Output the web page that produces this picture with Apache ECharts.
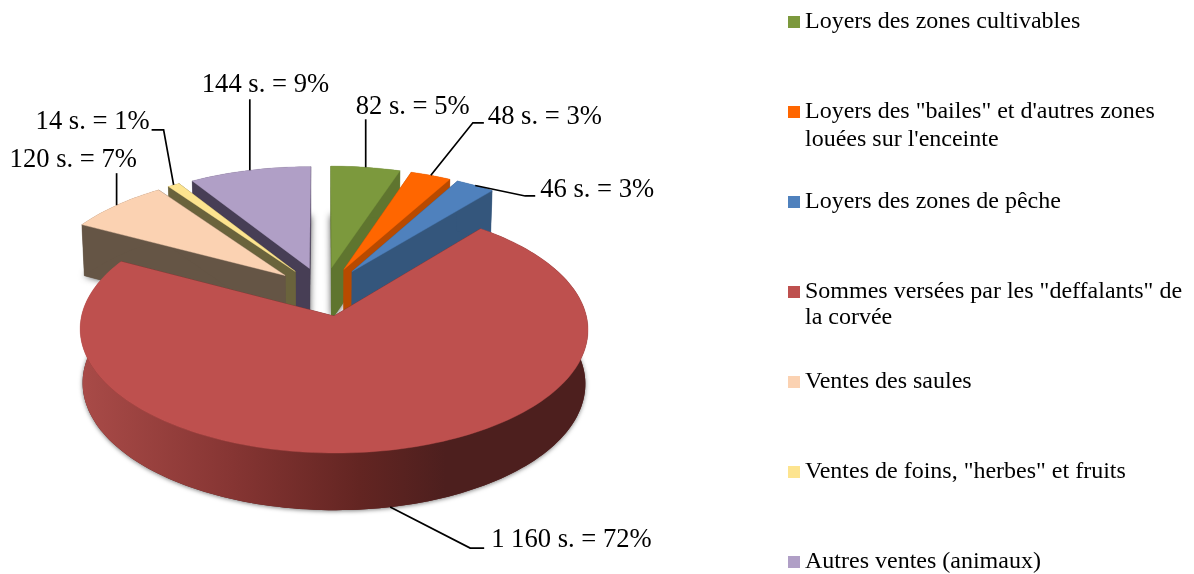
<!DOCTYPE html>
<html>
<head>
<meta charset="utf-8">
<style>html,body{margin:0;padding:0;background:#fff}#c{width:1194px;height:574px}</style>
<script src="https://cdn.jsdelivr.net/npm/echarts@6/dist/echarts.min.js"></script>
</head>
<body>
<div id="c"></div>
<script>
// ---- data ----
const categories = [
  'Loyers des zones cultivables',
  'Loyers des "bailes" et d\'autres zones',
  'Loyers des zones de pêche',
  'Sommes versées par les "deffalants" de',
  'Ventes des saules',
  'Ventes de foins, "herbes" et fruits',
  'Autres ventes (animaux)'
];
const categoryContinuation = ['', "louées sur l'enceinte", '', 'la corvée', '', '', ''];
const values = [82, 48, 46, 1160, 120, 14, 144];
const valueLabels = ['82 s. = 5%', '48 s. = 3%', '46 s. = 3%', '1 160 s. = 72%', '120 s. = 7%', '14 s. = 1%', '144 s. = 9%'];

// ---- styling ----
const topColors  = ['#7C993D', '#FF6600', '#4F81BD', '#BE504E', '#FBD2B2', '#FDE48F', '#B09FC6'];
const wallColors = ['#5F752F', '#B84A00', '#34567C', '#5a2322', '#655545', '#6A633C', '#473E55'];
const stacking   = [1, 2, 3, 4, 3, 2, 1];
const FONT = '"Liberation Serif","Times New Roman",serif';

// perspective disc
const P = {x0: 323.5, y0: 291.5, A: 247, B: 117, persp: 0.105, explode: 0.21, depth: 53, depthPersp: 0.06, baseShrink: 0.99};
function proj(U, V, low) {
  const w = 1 + P.persp * V;
  let x = P.x0 + P.A * U / w, y = P.y0 - P.B * V / w;
  if (low) { x = P.x0 + (x - P.x0) * P.baseShrink; y += P.depth / (1 + P.depthPersp * V); }
  return [x, y];
}
const total = values.reduce((a, b) => a + b, 0);
function sliceAngles(i) {
  let s = 0;
  for (let k = 0; k < i; k++) s += values[k];
  return [s / total * 2 * Math.PI, (s + values[i]) / total * 2 * Math.PI];
}
function sliceGeom(i) {
  const [a0, a1] = sliceAngles(i), mid = (a0 + a1) / 2;
  const ox = P.explode * Math.sin(mid), oy = P.explode * Math.cos(mid);
  const n = Math.max(3, Math.ceil((a1 - a0) / (Math.PI / 120)));
  const arcT = [], arcB = [];
  for (let k = 0; k <= n; k++) {
    const t = a0 + (a1 - a0) * k / n, U = ox + Math.sin(t), V = oy + Math.cos(t);
    arcT.push(proj(U, V, false)); arcB.push(proj(U, V, true));
  }
  return {arcT, arcB, apexT: proj(ox, oy, false), apexB: proj(ox, oy, true), midAnchor: proj(ox + Math.sin(mid), oy + Math.cos(mid), false), midAnchorLow: proj(ox + Math.sin(mid), oy + Math.cos(mid), true)};
}
function poly(points, style) { return {type: 'polygon', shape: {points}, style}; }

function renderSlice(i) {
  return function () {
    const g = sliceGeom(i), wall = wallColors[i], top = topColors[i];
    const wallStyle = {fill: wall, stroke: wall, lineWidth: 0.5};
    const children = [];
    const shadow = i === 3
      ? {fill: wall, shadowBlur: 4, shadowColor: 'rgba(0,0,0,0.5)', shadowOffsetY: 1}
      : {fill: wall, shadowBlur: 7, shadowColor: 'rgba(0,0,0,0.7)'};
    children.push(poly([g.apexB].concat(g.arcB), shadow));
    children.push(poly([g.apexT, g.arcT[0], g.arcB[0], g.apexB], wallStyle));
    const L = g.arcT.length - 1;
    children.push(poly([g.apexT, g.arcT[L], g.arcB[L], g.apexB], wallStyle));
    const arcFill = i === 3
      ? new echarts.graphic.LinearGradient(0, 0, 1, 0, [
          {offset: 0, color: '#A94B48'}, {offset: 0.3, color: '#863533'},
          {offset: 0.55, color: '#632522'}, {offset: 0.72, color: '#4D1F1E'}, {offset: 1, color: '#4D1F1E'}])
      : wall;
    children.push(poly(g.arcT.concat(g.arcB.slice().reverse()), {fill: arcFill}));
    children.push(poly([g.apexT].concat(g.arcT), {fill: top, stroke: top, lineWidth: 0.4}));
    return {type: 'group', children};
  };
}

// callouts: offsets of the leader's elbow(s) from its anchor on the slice, and of the text
const callouts = [
  {elbow: [[0, -48]], text: [-10, -60], low: false},
  {elbow: [[42, -52.5], [53, -52.5]], text: [57, -58], low: false},
  {elbow: [[50, 10.5], [60, 10.5]], text: [65, 5], low: false},
  {elbow: [[80, 41], [94, 41]], text: [101, 33], low: true},
  {elbow: [[0, -32]], text: [-107, -45], low: false},
  {elbow: [[-10, -55], [-22, -55]], text: [-138, -63], low: false},
  {elbow: [[0, -71]], text: [-48, -85], low: false}
];
function renderCallout(params) {
  const i = params.dataIndex, g = sliceGeom(i), c = callouts[i];
  const a = c.low ? g.midAnchorLow : g.midAnchor;
  const pts = [a].concat(c.elbow.map(e => [a[0] + e[0], a[1] + e[1]]));
  return {type: 'group', children: [
    {type: 'polyline', shape: {points: pts}, style: {fill: 'none', stroke: '#000', lineWidth: 1.7}},
    {type: 'text', style: {text: valueLabels[i], x: a[0] + c.text[0], y: a[1] + c.text[1], fill: '#000',
      font: '26.6px ' + FONT, textAlign: 'left', textVerticalAlign: 'middle'}}
  ]};
}

const legendCenters = [20, 110, 200, 290, 380, 470, 560];
const legendContinuationY = [0, 141, 0, 319, 0, 0, 0];

const series = categories.map((name, i) => ({
  type: 'custom', coordinateSystem: 'none', name, z: stacking[i] + 2,
  itemStyle: {color: topColors[i]}, silent: true, animation: false,
  renderItem: renderSlice(i), data: [values[i]]
}));
series.push({
  type: 'custom', coordinateSystem: 'none', name: 'Étiquettes', z: 20, silent: true, animation: false,
  renderItem: renderCallout, data: values
});

const option = {
  backgroundColor: '#fff', animation: false,
  legend: categories.map((name, i) => ({
    data: [name], left: 788, top: legendCenters[i] - 13, padding: 0, orient: 'vertical',
    icon: 'rect', itemWidth: 12, itemHeight: 12, selectedMode: false,
    textStyle: {fontFamily: FONT, fontSize: 24, color: '#000', lineHeight: 26, padding: [4, 0, 0, 0]}
  })),
  graphic: categoryContinuation.map((t, i) => t ? {
    type: 'text', left: 805, top: legendContinuationY[i] - 13,
    style: {text: t, font: '24px ' + FONT, fill: '#000'}
  } : null).filter(Boolean),
  series
};
const chart = echarts.init(document.getElementById('c'), null, {renderer: 'canvas'});
chart.setOption(option);
</script>
</body>
</html>
